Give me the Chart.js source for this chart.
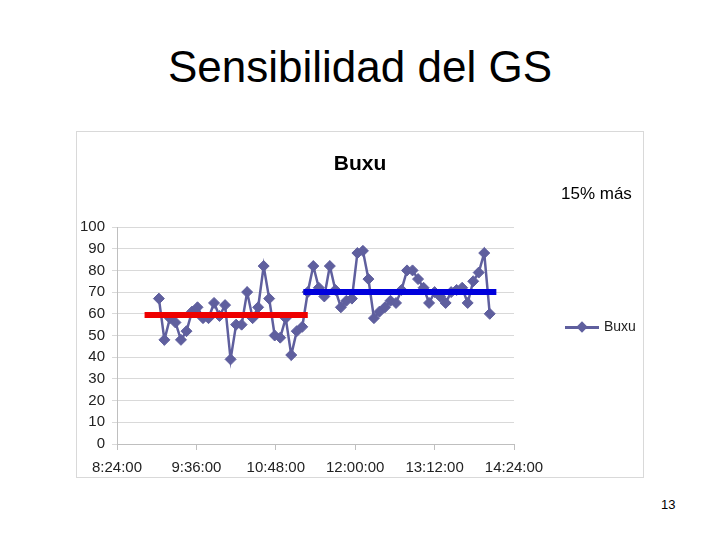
<!DOCTYPE html>
<html>
<head>
<meta charset="utf-8">
<script src="https://cdn.jsdelivr.net/npm/chart.js@4"></script>
<style>
  body { margin: 0; background: #fff; font-family: "Liberation Sans", Arial, sans-serif; }
  #slide { position: relative; width: 720px; height: 540px; overflow: hidden; }
  #title { position: absolute; left: 0; width: 720px; top: 42px; text-align: center; font-size: 44px; color: #000; }
  #box { position: absolute; left: 76px; top: 131px; width: 566px; height: 345px; border: 1px solid #d9d9d9; }
  #myCanvas { position: absolute; left: 76px; top: 131px; }
  #chartTitle { position: absolute; left: 76px; width: 568px; top: 151px; text-align: center; font-size: 21px; font-weight: bold; }
  #note { position: absolute; left: 561px; top: 184px; font-size: 17px; }
  #legend { position: absolute; left: 565px; top: 318px; font-size: 14px; color: #222; }
  #legend .ln { position: absolute; left: 0; top: 8px; width: 34px; height: 3px; background: #5f5f9e; }
  #legend .dm { position: absolute; left: 13px; top: 5px; width: 8px; height: 8px; background: #5f5f9e; transform: rotate(45deg); }
  #legend .tx { position: absolute; left: 39px; top: 0; }
  #page { position: absolute; left: 661px; top: 497px; font-size: 13px; }
</style>
</head>
<body>
<div id="slide">
  <div id="title">Sensibilidad del GS</div>
  <div id="box"></div>
  <canvas id="myCanvas" width="568" height="347"></canvas>
  <div id="chartTitle">Buxu</div>
  <div id="note">15% más</div>
  <div id="legend"><span class="ln"></span><span class="dm"></span><span class="tx">Buxu</span></div>
  <div id="page">13</div>
</div>
<script>
// readings, one every 5 min
var times = ["9:02","9:07","9:12","9:17","9:22","9:27","9:32","9:37","9:42","9:47",
  "9:52","9:57","10:02","10:07","10:12","10:17","10:22","10:27","10:32","10:37",
  "10:42","10:47","10:52","10:57","11:02","11:07","11:12","11:17","11:22","11:27",
  "11:32","11:37","11:42","11:47","11:52","11:57","12:02","12:07","12:12","12:17",
  "12:22","12:27","12:32","12:37","12:42","12:47","12:52","12:57","13:02","13:07",
  "13:12","13:17","13:22","13:27","13:32","13:37","13:42","13:47","13:52","13:57","14:02"];
var buxu = [67,48,58,56,48,52,61,63,58,58,
  65,59,64,39,55,55,70,58,63,82,
  67,50,49,58,41,52,54,70,82,72,
  68,82,71,63,66,67,88,89,76,58,
  61,63,66,65,71,80,80,76,72,65,
  70,68,65,70,71,72,65,75,79,88,60];

// mean lines (before / after)
var redTimes = ["8:49","11:17"];
var redValues = [59.5, 59.5];
var blueTimes = ["11:13","14:08"];
var blueValues = [70, 70];

var xTicks = ["8:24","9:36","10:48","12:00","13:12","14:24"];

function toMin(t) { //"h:mm" -> minutes
  var p = t.split(":");
  return parseInt(p[0]) * 60 + parseInt(p[1]);
}
function pts(tt, vv) {
  return tt.map(function (t, i) { return { x: toMin(t), y: vv[i] }; });
}
function fmt(m) {
  var h = Math.floor(m / 60), mm = m % 60;
  return h + ":" + (mm < 10 ? "0" : "") + mm + ":00";
}

var lineColor = "#5f5f9e";
var ctx = document.getElementById("myCanvas").getContext("2d");
var myChart = new Chart(ctx, {
  type: "line",
  data: {
    datasets: [
      { label: "rojo", data: pts(redTimes, redValues), borderColor: "#ee0000", borderWidth: 6, pointRadius: 0, order: 0 },
      { label: "azul", data: pts(blueTimes, blueValues), borderColor: "#0000dd", borderWidth: 6, pointRadius: 0, order: 0 },
      { label: "Buxu", data: pts(times, buxu), borderColor: lineColor, backgroundColor: lineColor,
        borderWidth: 2.5, pointStyle: "rectRot", pointRadius: 5.5, pointBorderWidth: 1, tension: 0, order: 1 }
    ]
  },
  options: {
    responsive: false,
    animation: false,
    layout: { padding: { left: 0, top: 96, right: 130, bottom: 0 } },
    plugins: { legend: { display: false }, title: { display: false }, tooltip: { enabled: false } },
    scales: {
      x: {
        type: "linear",
        min: toMin(xTicks[0]),
        max: toMin(xTicks[xTicks.length - 1]),
        afterBuildTicks: function (s) { s.ticks = xTicks.map(function (t) { return { value: toMin(t) }; }); },
        afterFit: function (s) { s.height = 34; },
        ticks: { callback: function (v) { return fmt(v); }, maxRotation: 0, padding: 9, color: "#222",
          font: { family: "Liberation Sans", size: 15 } },
        grid: { drawOnChartArea: false, tickLength: 6, color: "#bfbfbf" },
        border: { color: "#bfbfbf" }
      },
      y: {
        min: 0, max: 100,
        ticks: { stepSize: 10, padding: 7, color: "#222", font: { family: "Liberation Sans", size: 15 } },
        afterFit: function (s) { s.width = 41; },
        grid: { color: "#d9d9d9", tickLength: 5 },
        border: { color: "#bfbfbf" }
      }
    }
  }
});
</script>
</body>
</html>
